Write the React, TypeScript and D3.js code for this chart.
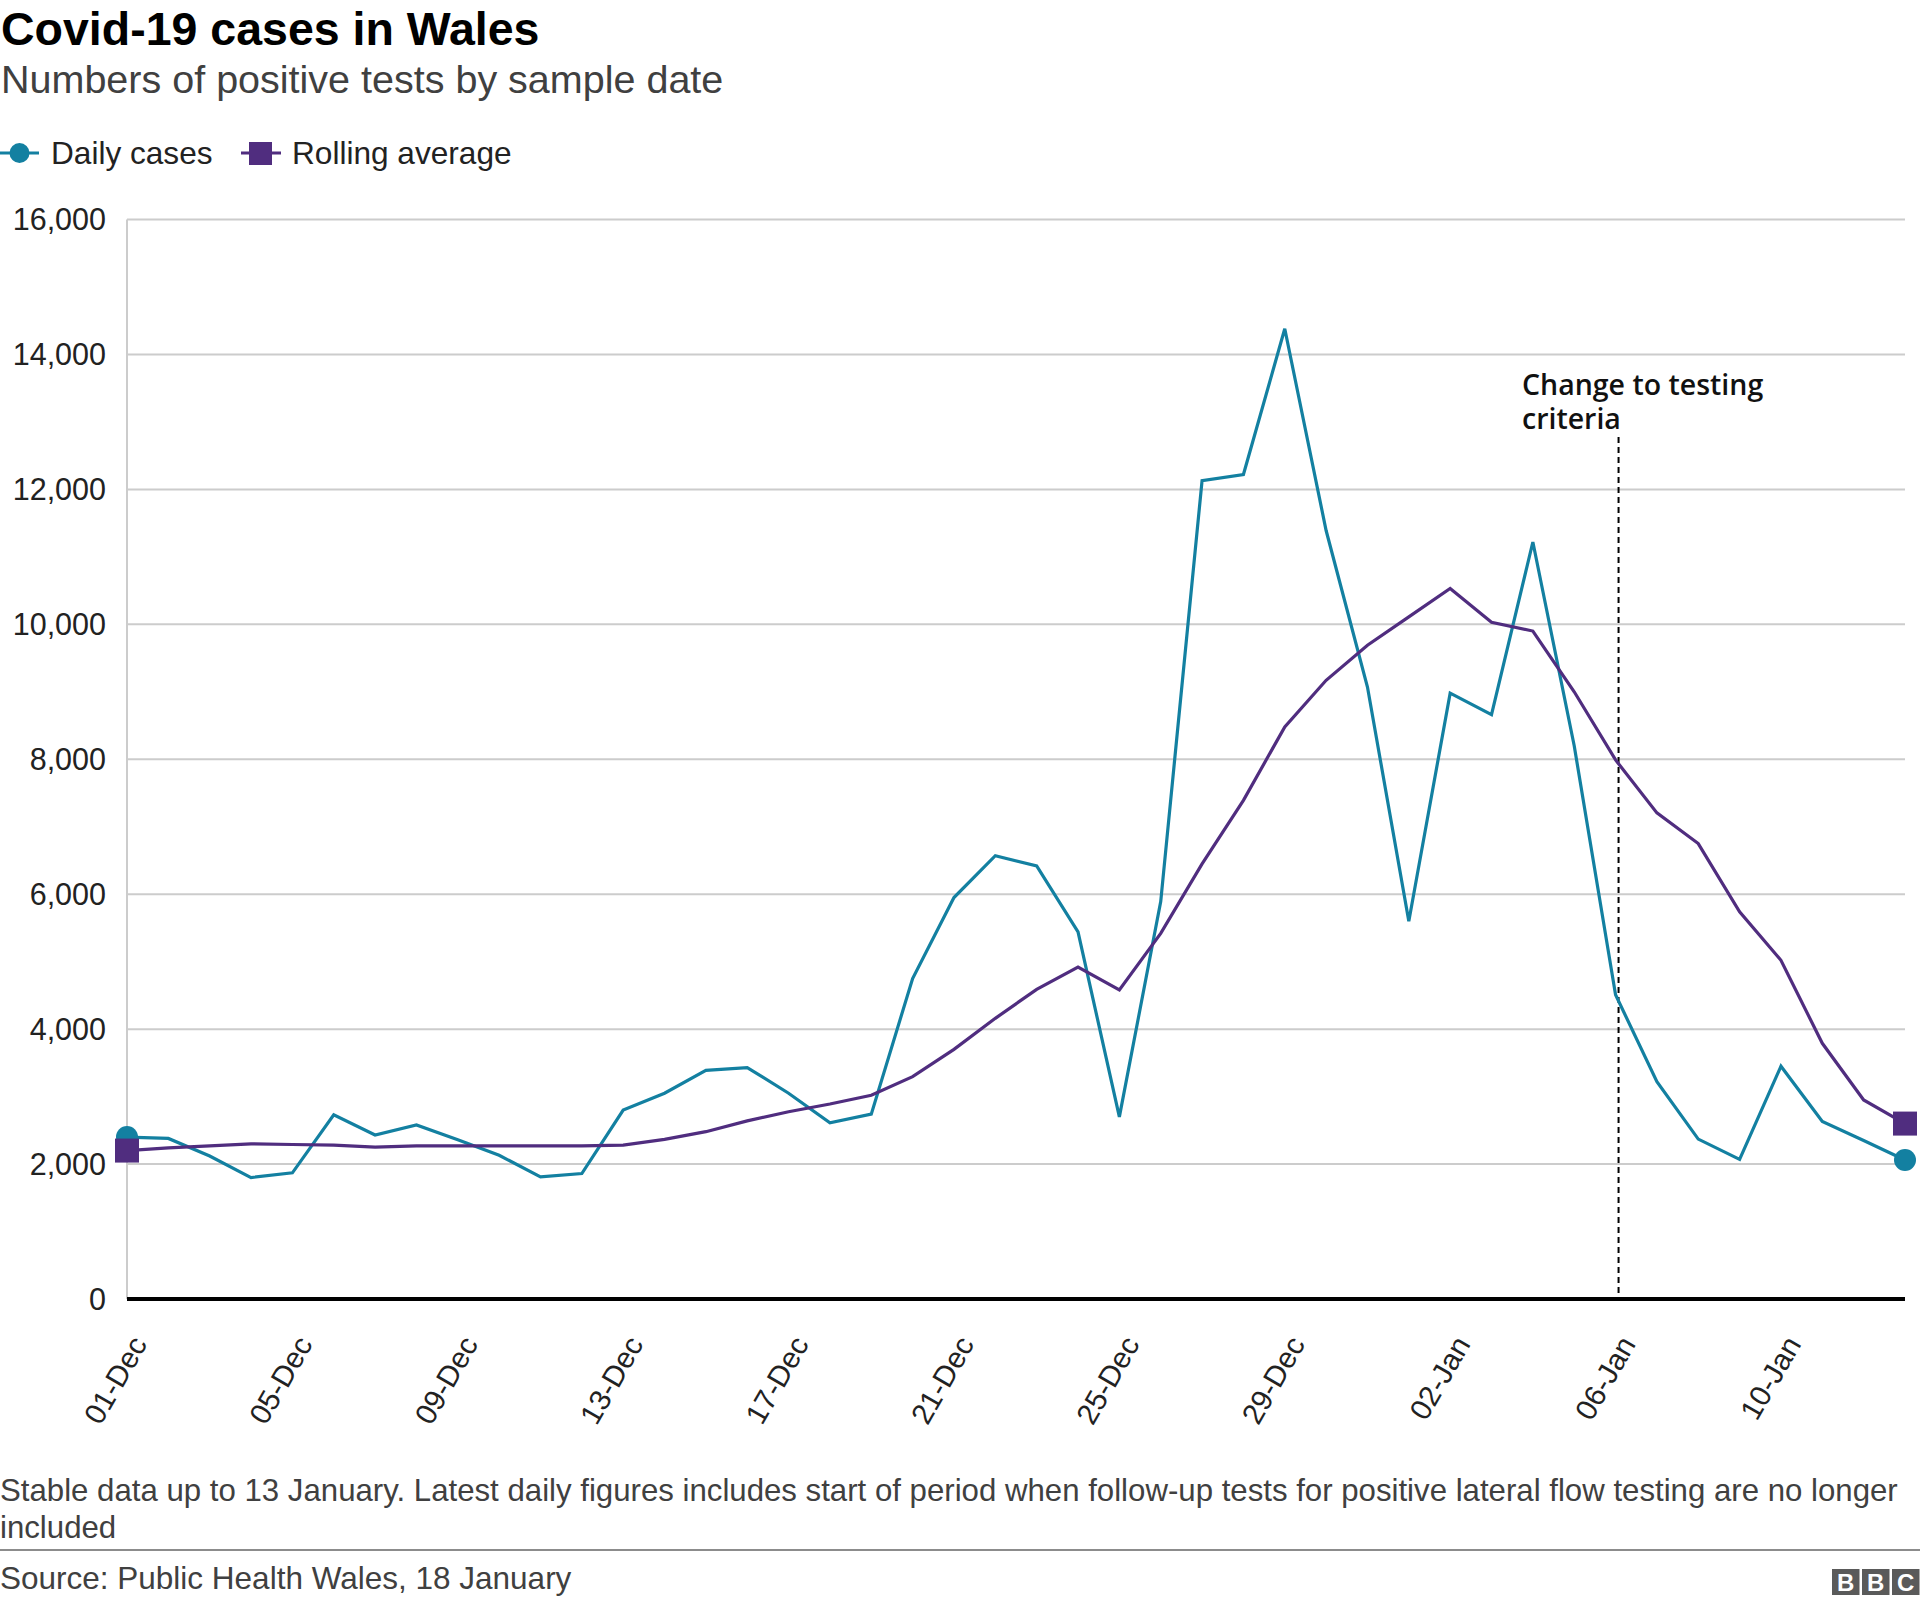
import React from "react";
import * as d3 from "d3";

const dates: string[] = [
  "01-Dec","02-Dec","03-Dec","04-Dec","05-Dec","06-Dec","07-Dec","08-Dec","09-Dec","10-Dec",
  "11-Dec","12-Dec","13-Dec","14-Dec","15-Dec","16-Dec","17-Dec","18-Dec","19-Dec","20-Dec",
  "21-Dec","22-Dec","23-Dec","24-Dec","25-Dec","26-Dec","27-Dec","28-Dec","29-Dec","30-Dec",
  "31-Dec","01-Jan","02-Jan","03-Jan","04-Jan","05-Jan","06-Jan","07-Jan","08-Jan","09-Jan",
  "10-Jan","11-Jan","12-Jan","13-Jan",
];

const dailyCases: number[] = [
  2400, 2380, 2120, 1800, 1870, 2730, 2430, 2580, 2360, 2130,
  1810, 1860, 2800, 3050, 3390, 3430, 3050, 2610, 2740, 4750,
  5950, 6570, 6420, 5440, 2700, 5890, 12130, 12220, 14380, 11390,
  9070, 5600, 8980, 8660, 11220, 8200, 4510, 3220, 2370, 2070,
  3450, 2630, 2350, 2060,
];

const rollingAverage: number[] = [
  2200, 2240, 2270, 2300, 2290, 2280, 2250, 2270, 2270, 2270,
  2270, 2270, 2280, 2365, 2480, 2640, 2775, 2890, 3020, 3295,
  3700, 4160, 4590, 4920, 4580, 5420, 6450, 7390, 8480, 9170,
  9690, 10110, 10530, 10030, 9900, 9000, 7990, 7205, 6750, 5740,
  5020, 3790, 2950, 2600,
];

const xTickLabels: string[] = [
  "01-Dec","05-Dec","09-Dec","13-Dec","17-Dec","21-Dec","25-Dec","29-Dec","02-Jan","06-Jan","10-Jan",
];
const yTicks: number[] = [0, 2000, 4000, 6000, 8000, 10000, 12000, 14000, 16000];

const annotationDate = "06-Jan";
const annotationLines: string[] = ["Change to testing", "criteria"];

const TEAL = "#1380A1";
const PURPLE = "#502D7F";
const FONT = "'Liberation Sans', Arial, Helvetica, sans-serif";

export default function App() {
  const W = 1920;
  const H = 1605;
  const left = 127;
  const right = 1905;
  const top = 219.5;
  const bottom = 1299;

  const x = d3.scaleLinear().domain([0, dates.length - 1]).range([left, right]);
  const y = d3.scaleLinear().domain([0, 16000]).range([bottom, top]);

  const line = d3
    .line<number>()
    .x((_, i) => x(i))
    .y((d) => y(d));

  const nf = d3.format(",");
  const annX = x(dates.indexOf(annotationDate)) + 3;
  const last = dates.length - 1;

  return (
    <svg
      width={W}
      height={H}
      style={{ position: "absolute", left: 0, top: 0, background: "#fff" }}
      fontFamily={FONT}
    >
      <rect x={0} y={0} width={W} height={H} fill="#fff" />
      {/* Title */}
      <text x={1} y={45} fontSize={46.5} fontWeight="bold" fill="#000">
        Covid-19 cases in Wales
      </text>
      <text x={1} y={93} fontSize={39.5} fill="#404040">
        Numbers of positive tests by sample date
      </text>

      {/* Legend */}
      <g>
        <line x1={0} x2={39} y1={153} y2={153} stroke={TEAL} strokeWidth={3} />
        <circle cx={19.5} cy={153} r={10} fill={TEAL} />
        <text x={51} y={153} dy="0.35em" fontSize={31.6} fill="#222">
          Daily cases
        </text>
        <line x1={241} x2={281} y1={153} y2={153} stroke={PURPLE} strokeWidth={3} />
        <rect x={249} y={142} width={23} height={23} fill={PURPLE} />
        <text x={292} y={153} dy="0.35em" fontSize={31.6} fill="#222">
          Rolling average
        </text>
      </g>

      {/* Grid */}
      {yTicks.map((t) => (
        <g key={t}>
          {t !== 0 && (
            <line x1={left} x2={right} y1={y(t)} y2={y(t)} stroke="#cccccc" strokeWidth={2} />
          )}
          <text x={106} y={y(t)} dy="0.35em" textAnchor="end" fontSize={30.5} fill="#222">
            {nf(t)}
          </text>
        </g>
      ))}
      <line x1={left} x2={left} y1={top} y2={bottom} stroke="#cccccc" strokeWidth={2} />

      {/* X tick labels */}
      {xTickLabels.map((lab) => {
        const xi = x(dates.indexOf(lab)) + 21;
        const yi = 1344;
        return (
          <text
            key={lab}
            x={xi}
            y={yi}
            textAnchor="end"
            fontSize={29.5}
            fill="#222"
            transform={`rotate(-60, ${xi}, ${yi})`}
          >
            {lab}
          </text>
        );
      })}

      {/* Annotation */}
      <line
        x1={annX}
        x2={annX}
        y1={437}
        y2={1293}
        stroke="#000"
        strokeWidth={2}
        strokeDasharray="6,4"
      />
      <text fontFamily="'Open Sans', sans-serif" fontSize={28.5} fontWeight={600} fill="#111">
        {annotationLines.map((l, i) => (
          <tspan key={i} x={1522} y={395 + i * 33.5}>
            {l}
          </tspan>
        ))}
      </text>

      {/* Series */}
      <path d={line(dailyCases) || ""} fill="none" stroke={TEAL} strokeWidth={3.2} strokeLinejoin="miter" />
      <path d={line(rollingAverage) || ""} fill="none" stroke={PURPLE} strokeWidth={3.2} strokeLinejoin="miter" />

      <circle cx={x(0)} cy={y(dailyCases[0])} r={11} fill={TEAL} />
      <circle cx={x(last)} cy={y(dailyCases[last])} r={11} fill={TEAL} />
      <rect x={x(0) - 12} y={y(rollingAverage[0]) - 12} width={24} height={24} fill={PURPLE} />
      <rect x={x(last) - 12} y={y(rollingAverage[last]) - 12} width={24} height={24} fill={PURPLE} />

      {/* Zero baseline */}
      <line x1={left} x2={right} y1={y(0)} y2={y(0)} stroke="#000" strokeWidth={4} />

      {/* Footer */}
      <text fontSize={31.2} fill="#404040">
        <tspan x={0} y={1501}>
          Stable data up to 13 January. Latest daily figures includes start of period when follow-up tests for positive lateral flow testing are no longer
        </tspan>
        <tspan x={0} y={1538}>
          included
        </tspan>
      </text>
      <line x1={0} x2={W} y1={1550} y2={1550} stroke="#8c8c8c" strokeWidth={2} />
      <text x={0} y={1589} fontSize={31.5} fill="#404040">
        Source: Public Health Wales, 18 January
      </text>
      {["B", "B", "C"].map((c, i) => (
        <g key={i}>
          <rect x={1832 + i * 30} y={1569} width={27.5} height={26} fill="#5a5a5a" />
          <text
            x={1832 + i * 30 + 13.75}
            y={1582}
            dy="0.36em"
            textAnchor="middle"
            fontSize={24}
            fontWeight="bold"
            fill="#fff"
          >
            {c}
          </text>
        </g>
      ))}
    </svg>
  );
}
